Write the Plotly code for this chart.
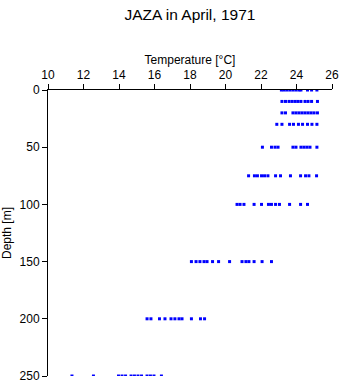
import plotly.graph_objects as go

# Temperature readings (°C) per depth (m)
depths = [0, 10, 20, 30, 50, 75, 100, 150, 200, 250]
temps_0 = [23.15, 23.30, 23.46, 23.63, 23.80, 23.97, 24.14, 24.25, 24.62, 24.85, 25.15]
temps_10 = [23.18, 23.38, 23.58, 23.75, 23.92, 24.08, 24.25, 24.48, 24.65, 24.85, 25.18]
temps_20 = [23.18, 23.38, 23.80, 23.97, 24.14, 24.31, 24.48, 24.65, 24.82, 24.99, 25.18]
temps_30 = [22.89, 23.18, 23.61, 23.83, 24.11, 24.34, 24.62, 24.87, 25.15]
temps_50 = [22.08, 22.59, 22.79, 22.96, 23.80, 23.97, 24.25, 24.42, 24.59, 24.76, 25.15]
temps_75 = [21.30, 21.63, 21.80, 22.03, 22.20, 22.39, 22.82, 23.10, 23.66, 24.23, 24.51, 24.70, 25.13]
temps_100 = [20.65, 20.82, 21.04, 21.61, 22.03, 22.42, 22.59, 22.82, 23.04, 23.61, 24.23, 24.62]
temps_150 = [18.08, 18.34, 18.56, 18.79, 18.96, 19.27, 19.61, 20.23, 20.93, 21.15, 21.32, 21.61, 22.06, 22.59]
temps_200 = [15.58, 15.80, 16.28, 16.59, 16.93, 17.15, 17.38, 17.55, 18.08, 18.59, 18.82]
temps_250 = [11.35, 12.56, 13.97, 14.17, 14.37, 14.68, 14.87, 15.07, 15.27, 15.58, 15.77, 15.97, 16.39]

series = [temps_0, temps_10, temps_20, temps_30, temps_50, temps_75,
          temps_100, temps_150, temps_200, temps_250]

xs, ys = [], []
for d, ts in zip(depths, series):
    for t in ts:
        xs.append(t)
        ys.append(d)

x_ticks = [10, 12, 14, 16, 18, 20, 22, 24, 26]
y_ticks = [0, 50, 100, 150, 200, 250]

fig = go.Figure(go.Scatter(
    x=xs, y=ys, mode="markers",
    marker=dict(symbol="square", size=3, color="rgb(0,0,255)", line=dict(width=0)),
    hoverinfo="x+y", showlegend=False,
))

font = "Liberation Sans, Arial, Helvetica, sans-serif"
fig.update_layout(
    width=341, height=384,
    margin=dict(l=48, r=9, t=90, b=8, autoexpand=False),
    paper_bgcolor="white", plot_bgcolor="white",
    font=dict(family=font, size=12, color="black"),
    title=dict(text="JAZA in April, 1971", x=0.557, xanchor="center",
               y=1 - 15 / 384, yanchor="middle", yref="container",
               font=dict(size=15.5, family=font, color="black")),
    xaxis=dict(side="top", range=[10, 26], tickvals=x_ticks,
               ticks="outside", ticklen=5, tickcolor="black",
               showline=True, linecolor="black", linewidth=1,
               showgrid=False, zeroline=False, automargin=False,
               tickfont=dict(size=12),
               title=dict(text="Temperature [°C]", standoff=1,
                          font=dict(size=12, family=font))),
    yaxis=dict(range=[250, 0], tickvals=y_ticks,
               ticks="outside", ticklen=5, tickcolor="black",
               showline=True, linecolor="black", linewidth=1,
               showgrid=False, zeroline=False, automargin=False,
               tickfont=dict(size=12),
               title=dict(text="Depth [m]", standoff=6,
                          font=dict(size=12, family=font))),
)

fig.write_html("out.html")
